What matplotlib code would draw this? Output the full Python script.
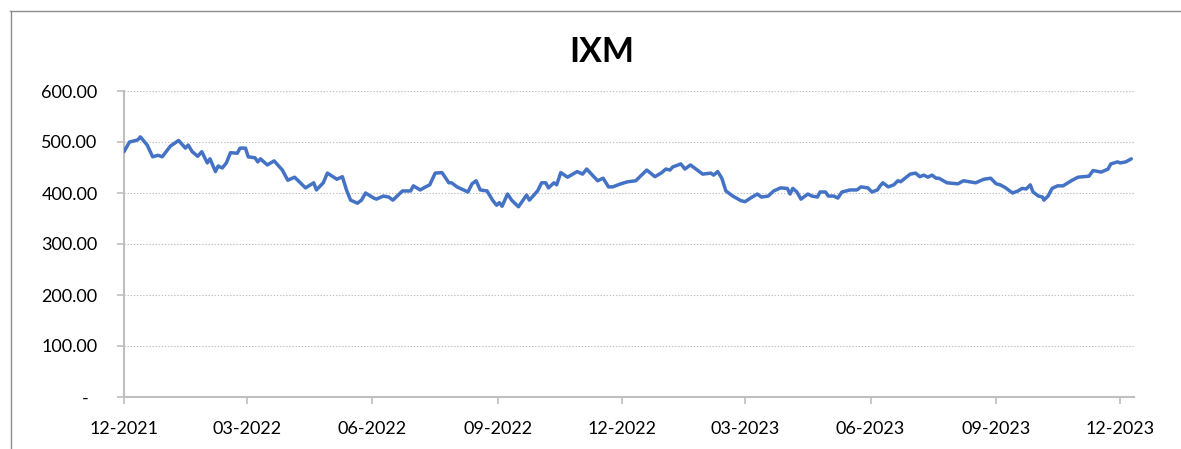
import matplotlib
matplotlib.use("Agg")
import matplotlib.pyplot as plt
import matplotlib.dates as mdates
from matplotlib.ticker import FuncFormatter
from matplotlib.lines import Line2D
import pandas as pd

plt.rcParams['font.family'] = ['Lato', 'DejaVu Sans']

title = "IXM"

dates = [
    "2021-12-01", "2021-12-05", "2021-12-11", "2021-12-13", "2021-12-18", "2021-12-22",
    "2021-12-26", "2021-12-29", "2022-01-04", "2022-01-10", "2022-01-15", "2022-01-17",
    "2022-01-20", "2022-01-24", "2022-01-27", "2022-01-31", "2022-02-02", "2022-02-06",
    "2022-02-08", "2022-02-11", "2022-02-14", "2022-02-17", "2022-02-22", "2022-02-24",
    "2022-02-28", "2022-03-02", "2022-03-07", "2022-03-09", "2022-03-11", "2022-03-16",
    "2022-03-21", "2022-03-27", "2022-03-31", "2022-04-05", "2022-04-13", "2022-04-19",
    "2022-04-21", "2022-04-26", "2022-04-29", "2022-05-06", "2022-05-10", "2022-05-13",
    "2022-05-16", "2022-05-21", "2022-05-24", "2022-05-27", "2022-06-02", "2022-06-04",
    "2022-06-09", "2022-06-13", "2022-06-16", "2022-06-23", "2022-06-29", "2022-07-01",
    "2022-07-06", "2022-07-10", "2022-07-13", "2022-07-17", "2022-07-22", "2022-07-27",
    "2022-07-29", "2022-08-02", "2022-08-10", "2022-08-13", "2022-08-16", "2022-08-19",
    "2022-08-24", "2022-08-28", "2022-08-31", "2022-09-02", "2022-09-04", "2022-09-08",
    "2022-09-11", "2022-09-16", "2022-09-22", "2022-09-24", "2022-09-30", "2022-10-03",
    "2022-10-06", "2022-10-08", "2022-10-12", "2022-10-14", "2022-10-17", "2022-10-22",
    "2022-10-29", "2022-11-02", "2022-11-05", "2022-11-13", "2022-11-17", "2022-11-21",
    "2022-11-24", "2022-11-30", "2022-12-05", "2022-12-11", "2022-12-14", "2022-12-19",
    "2022-12-25", "2022-12-30", "2023-01-02", "2023-01-05", "2023-01-07", "2023-01-13",
    "2023-01-16", "2023-01-20", "2023-01-25", "2023-01-29", "2023-02-04", "2023-02-06",
    "2023-02-09", "2023-02-12", "2023-02-15", "2023-02-20", "2023-02-26", "2023-03-01",
    "2023-03-05", "2023-03-10", "2023-03-13", "2023-03-18", "2023-03-22", "2023-03-27",
    "2023-04-01", "2023-04-03", "2023-04-05", "2023-04-08", "2023-04-11", "2023-04-16",
    "2023-04-19", "2023-04-23", "2023-04-25", "2023-04-29", "2023-05-01", "2023-05-05",
    "2023-05-08", "2023-05-11", "2023-05-17", "2023-05-22", "2023-05-25", "2023-05-30",
    "2023-06-02", "2023-06-06", "2023-06-08", "2023-06-10", "2023-06-14", "2023-06-18",
    "2023-06-21", "2023-06-23", "2023-06-30", "2023-07-04", "2023-07-07", "2023-07-10",
    "2023-07-13", "2023-07-16", "2023-07-19", "2023-07-21", "2023-07-27", "2023-08-04",
    "2023-08-08", "2023-08-17", "2023-08-23", "2023-08-28", "2023-09-01", "2023-09-04",
    "2023-09-08", "2023-09-13", "2023-09-17", "2023-09-20", "2023-09-23", "2023-09-26",
    "2023-09-28", "2023-10-02", "2023-10-05", "2023-10-06", "2023-10-09", "2023-10-12",
    "2023-10-16", "2023-10-20", "2023-10-26", "2023-10-31", "2023-11-08", "2023-11-11",
    "2023-11-17", "2023-11-22", "2023-11-24", "2023-11-29", "2023-12-01", "2023-12-05",
    "2023-12-09",
]

prices = [
    481, 500, 504, 510, 494, 471,
    474, 471, 492, 503, 488, 494,
    481, 472, 481, 459, 467, 442,
    453, 449, 459, 479, 478, 488,
    488, 471, 469, 461, 467, 455,
    463, 445, 425, 431, 410, 420,
    406, 420, 439, 427, 432, 406,
    386, 380, 386, 400, 390, 388,
    394, 392, 386, 404, 404, 414,
    406, 412, 416, 439, 440, 420,
    420, 412, 402, 418, 424, 406,
    404, 386, 376, 381, 374, 398,
    386, 373, 396, 386, 404, 420,
    420, 410, 420, 416, 440, 431,
    442, 437, 447, 424, 429, 412,
    412, 418, 422, 424, 432, 445,
    432, 440, 447, 445, 451, 457,
    447, 455, 445, 437, 439, 435,
    442, 429, 404, 394, 385, 383,
    390, 398, 392, 394, 404, 410,
    409, 398, 409, 402, 388, 398,
    394, 392, 402, 402, 394, 394,
    390, 402, 406, 406, 412, 410,
    402, 406, 414, 420, 412, 416,
    424, 422, 437, 439, 432, 435,
    431, 435, 429, 429, 420, 418,
    424, 420, 427, 429, 418, 416,
    410, 400, 404, 409, 408, 416,
    402, 394, 392, 386, 394, 409,
    414, 414, 424, 431, 433, 444,
    441, 447, 457, 461, 459, 461,
    467,
]

x_start = "2021-12-01"
x_end = "2023-12-11"
y_ticks = [0, 100, 200, 300, 400, 500, 600]

x = pd.to_datetime(dates)

W, H = 1181, 449
fig = plt.figure(figsize=(W / 100, H / 100), dpi=100)
ax = fig.add_axes([124 / W, 1 - 397 / H, (1134 - 124) / W, (397 - 91) / H])

line_color = "#4472C4"
axis_color = "#BFBFBF"
text_color = "#000000"

ax.plot(x, prices, color=line_color, linewidth=2.5, solid_joinstyle="round",
        solid_capstyle="round", zorder=3)

ax.set_ylim(0, 600)
ax.set_yticks(y_ticks)
ax.set_xlim(pd.Timestamp(x_start), pd.Timestamp(x_end))

ax.xaxis.set_major_locator(mdates.MonthLocator(bymonth=[3, 6, 9, 12], bymonthday=1))
ax.xaxis.set_major_formatter(mdates.DateFormatter("%m-%Y"))


def fmt_y(v, pos):
    # accounting-style zero shown as a dash
    if v == 0:
        return "-  "
    return f"{v:,.2f}"


ax.yaxis.set_major_formatter(FuncFormatter(fmt_y))

ax.grid(axis="y", color="#BDBDBD", linestyle=(0, (1.2, 1.6)), linewidth=0.8)
ax.set_axisbelow(True)

for side in ("top", "right"):
    ax.spines[side].set_visible(False)
for side in ("left", "bottom"):
    ax.spines[side].set_color(axis_color)
    ax.spines[side].set_linewidth(1.5)

ax.tick_params(axis="y", length=5, width=1.2, color=axis_color, pad=14,
               labelsize=13, labelcolor=text_color)
ax.tick_params(axis="x", length=5, width=1.2, color=axis_color, pad=12,
               labelsize=13, labelcolor=text_color)

fig.text(602 / W, 1 - 52 / H, title, ha="center", va="center",
         fontsize=24.5, fontweight="bold", color=text_color)

# chart frame (top and left edges)
frame_color = "#8C8C8C"
fig.add_artist(Line2D([10 / W, 1], [1 - 10.5 / H, 1 - 10.5 / H],
                      transform=fig.transFigure, color=frame_color, linewidth=1))
fig.add_artist(Line2D([10.5 / W, 10.5 / W], [0, 1 - 10.5 / H],
                      transform=fig.transFigure, color=frame_color, linewidth=1))

fig.savefig("out.png", dpi=100, facecolor="white")
